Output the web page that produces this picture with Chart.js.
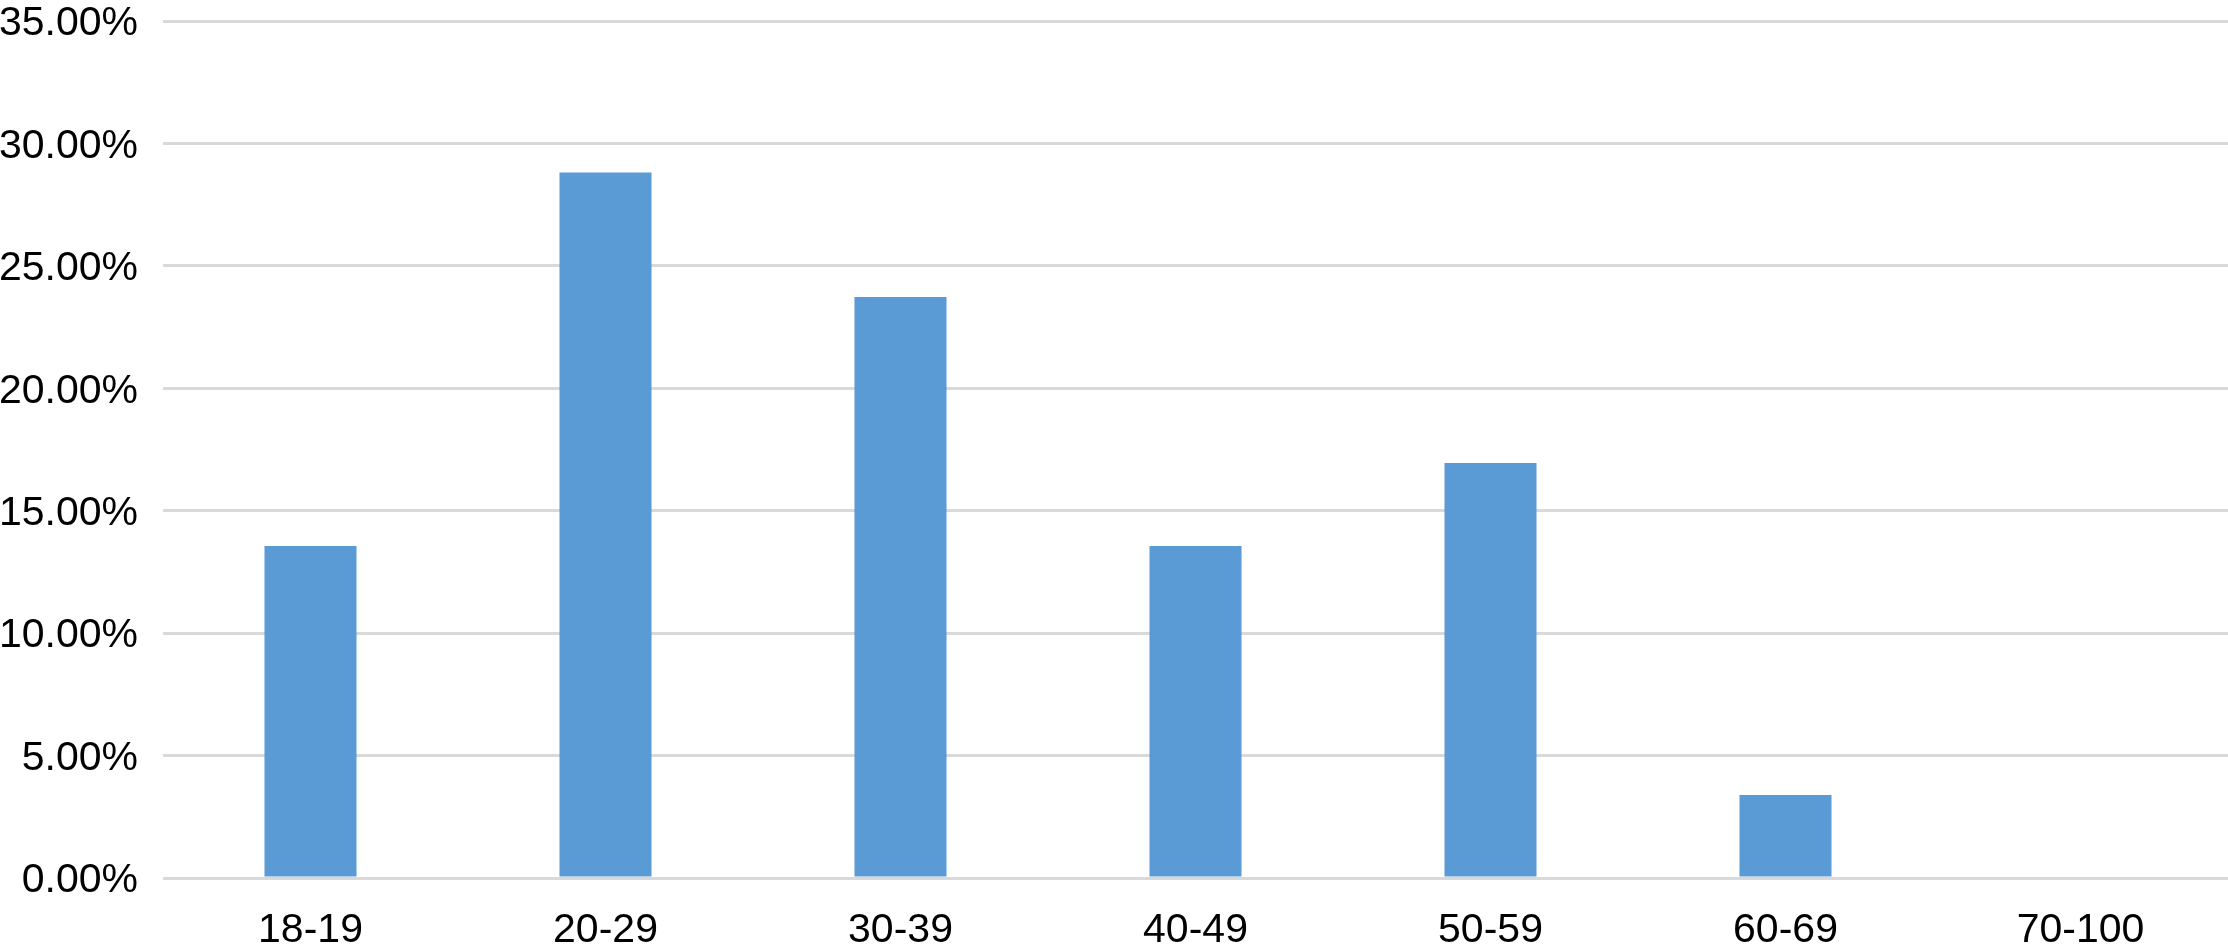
<!DOCTYPE html>
<html>
<head>
<meta charset="utf-8">
<script src="https://cdn.jsdelivr.net/npm/chart.js@4/dist/chart.umd.min.js"></script>
<style>
  html, body { margin: 0; padding: 0; background: #fff; }
  #wrap { width: 2228px; height: 947px; }
</style>
</head>
<body>
<div id="wrap"><canvas id="grafico" width="2228" height="947"></canvas></div>
<script>
const categorias = ['18-19', '20-29', '30-39', '40-49', '50-59', '60-69', '70-100'];
const porcentajes = [13.56, 28.81, 23.73, 13.56, 16.95, 3.39, 0];
const yMax = 35;
const yPaso = 5;

const fuente = { family: 'Liberation Sans', size: 41, lineHeight: 1 };

const ctx = document.getElementById('grafico').getContext('2d');
// eslint-disable-next-line no-undef
const chartInstance = new Chart(ctx, {
  type: 'bar',
  data: {
    labels: categorias,
    datasets: [
      {
        data: porcentajes,
        backgroundColor: '#5b9bd5',
        borderWidth: 0,
        categoryPercentage: 1,
        barPercentage: 0.312,
      },
    ],
  },
  options: {
    responsive: false,
    animation: false,
    layout: { padding: { top: 21, right: 0, left: 0, bottom: 0 } },
    plugins: {
      legend: { display: false },
      tooltip: { enabled: false },
    },
    scales: {
      x: {
        grid: { display: false, drawTicks: false },
        border: { display: false },
        ticks: { color: '#000', padding: 32, font: fuente },
        afterFit: (s) => {
          s.height = 69;
          s.paddingLeft = 0;
          s.paddingRight = 0;
        },
      },
      y: {
        min: 0,
        max: yMax,
        grid: { color: '#d9d9d9', lineWidth: 3, drawTicks: false },
        border: { display: false },
        ticks: {
          stepSize: yPaso,
          color: '#000',
          padding: 25,
          labelOffset: 3,
          font: fuente,
          callback: (v) => `${v.toFixed(2)}%`,
        },
        afterFit: (s) => {
          s.width = 163;
          s.paddingTop = 0;
          s.paddingBottom = 0;
        },
      },
    },
  },
});
</script>
</body>
</html>
